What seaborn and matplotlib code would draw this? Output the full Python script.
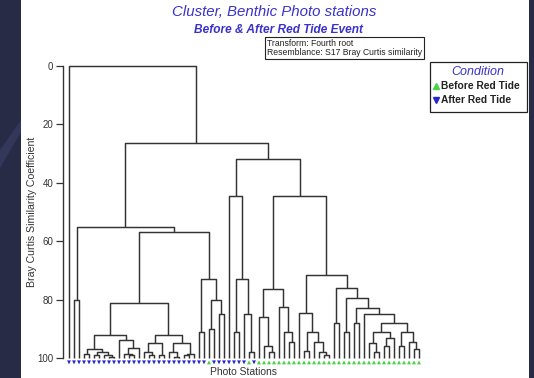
import matplotlib
matplotlib.use("Agg")
import matplotlib.pyplot as plt
import seaborn as sns
import pandas as pd
from matplotlib.collections import LineCollection
from matplotlib.patches import Rectangle, Polygon

sns.set_theme(style="white")
plt.rcParams["font.family"] = ["Liberation Sans", "DejaVu Sans"]

# station order left to right, A = after red tide, B = before red tide
station_condition = list(
    "AAAAAAAAAAAAAAAAAAAAAAAAAAAA" "B" "AAAAAAA" "B" "A"
    "BBBBBBBBBBBBBBBBBBBBBBBBBBBBBBBBB"
)

# dendrogram nodes: (similarity, left, right); ints are station positions
grp_a1 = (92, (97, (98.5, 3, 4), (98, (99, 5, 6), (99, 7, (99.5, 8, 9)))),
              (94, 10, (96.5, (98.5, 11, (99, 12, 13)), 14)))
grp_a2 = (92, (95, (98, 15, (99, 16, 17)), (99, 18, 19)),
              (95, (98, 20, (99.5, 21, 22)), (98.5, (99, 23, 24), 25)))
grp_b = (73, (91, 26, 27), (80, (90, 28, 29), (85, 30, 31)))
grp_left = (55, (80, 1, 2), (57, (81, grp_a1, grp_a2), grp_b))

grp_r1 = (44.5, 32, (73, (91, 33, 34), (85, 35, (98, 36, 37))))
grp_r2 = (76.5, (86, 38, (96, 39, (98, 40, 41))),
                (82.5, 42, (91, 43, (94.5, 44, 45))))
grp_r3 = (84.5, 46, (91, (97.5, 47, 48), (94.5, 49, (98, 50, (99, 51, 52)))))
grp_r4_tail = (88, (91, (95, 60, (98, 61, 62)), (93, (96, 63, 64), 65)),
                   (91, (96, 66, 67), (94.5, 68, (97, 69, 70))))
grp_r4 = (76, (88, 53, 54),
              (79.5, (91, 55, 56),
                     (83, (88, 57, 58), (85, 59, grp_r4_tail))))
grp_right = (32, grp_r1, (44.5, grp_r2, (71.5, grp_r3, grp_r4)))

tree = (0, 0, (26.5, grp_left, grp_right))

y_ticks = [0, 20, 40, 60, 80, 100]

W, H = 534, 378
fig = plt.figure(figsize=(W / 100, H / 100), dpi=100)
fig.patch.set_facecolor("#282b45")
# slide decoration on the left strip
fig.patches.append(Polygon([(0, 1 - 150 / H), (21 / W, 1 - 120 / H), (21 / W, 1 - 132 / H),
                            (0, 1 - 168 / H)], closed=True, transform=fig.transFigure,
                           facecolor="#33375a", edgecolor="none", zorder=-2))
fig.patches.append(Rectangle((21 / W, 0), (529 - 21) / W, 1, transform=fig.transFigure,
                             facecolor="white", edgecolor="none", zorder=-1))


def px_s(p):
    return (p - 66) / 2.92


ax = fig.add_axes([63 / W, 1 - 366 / H, (430 - 63) / W, (366 - 60) / H])
ax.set_facecolor("none")
ax.set_xlim((63 - 69) / 5, (430 - 69) / 5)
ax.set_ylim(px_s(366), px_s(60))

segments = []


def walk(node):
    if isinstance(node, int):
        return float(node), 100.0
    h, left, right = node
    xl, hl = walk(left)
    xr, hr = walk(right)
    segments.append([(xl, hl), (xl, h), (xr, h), (xr, hr)])
    return (xl + xr) / 2, h


walk(tree)
ax.add_collection(LineCollection(segments, colors="#333333", linewidths=1.05,
                                 clip_on=False))

df = pd.DataFrame({
    "station": range(len(station_condition)),
    "condition": station_condition,
})
df["y"] = 101.5
sns.scatterplot(data=df, x="station", y="y", hue="condition", style="condition",
                markers={"A": "v", "B": "^"},
                palette={"A": "#2626cc", "B": "#44d444"},
                s=8, linewidth=0, legend=False, clip_on=False, ax=ax)
ax.set_xlabel("")
ax.set_ylabel("")

for side in ["top", "right", "bottom"]:
    ax.spines[side].set_visible(False)
ax.spines["left"].set_bounds(0, 100)
ax.spines["left"].set_color("#333333")
ax.spines["left"].set_linewidth(1.0)
ax.set_xticks([])
ax.set_yticks(y_ticks)
ax.tick_params(axis="y", direction="out", length=5, width=0.9, color="#333333",
               labelsize=7, labelcolor="#333333", pad=2, left=True)

title_blue = "#3a32c8"
fig.text(274 / W, 1 - 12 / H, "Cluster, Benthic Photo stations", ha="center",
         va="center", fontsize=10.8, style="italic", color=title_blue)
fig.text(278 / W, 1 - 30 / H, "Before & After Red Tide Event", ha="center",
         va="center", fontsize=8.6, style="italic", weight="bold", color=title_blue)
fig.text(267 / W, 1 - 48 / H,
         "Transform: Fourth root\nResemblance: S17 Bray Curtis similarity",
         ha="left", va="center", fontsize=6.2, linespacing=1.1, color="#222222",
         bbox=dict(boxstyle="square,pad=0.2", fc="white", ec="#222222", lw=0.8))

fig.text(32 / W, 1 - 212 / H, "Bray Curtis Similarity Coefficient", rotation=90,
         ha="center", va="center", fontsize=7.6, color="#333333")
fig.text(244 / W, 1 - 372 / H, "Photo Stations", ha="center", va="center",
         fontsize=7.5, color="#333333")

# condition legend box
fig.patches.append(Rectangle((430 / W, 1 - 112 / H), 97 / W, 50 / H,
                             transform=fig.transFigure, facecolor="white",
                             edgecolor="#222222", linewidth=0.9))
fig.text(478 / W, 1 - 72 / H, "Condition", ha="center", va="center",
         fontsize=9.0, style="italic", color=title_blue)
fig.lines.append(plt.Line2D([436 / W], [1 - 86 / H], marker="^", color="#44d444",
                            markersize=4.5, linestyle="none",
                            transform=fig.transFigure))
fig.lines.append(plt.Line2D([436 / W], [1 - 100 / H], marker="v", color="#2626cc",
                            markersize=4.5, linestyle="none",
                            transform=fig.transFigure))
fig.text(441 / W, 1 - 86 / H, "Before Red Tide", ha="left", va="center",
         fontsize=7.4, weight="bold", color="#222222")
fig.text(441 / W, 1 - 100 / H, "After Red Tide", ha="left", va="center",
         fontsize=7.4, weight="bold", color="#222222")

fig.savefig("out.png", dpi=100, facecolor=fig.get_facecolor())
plt.close()
